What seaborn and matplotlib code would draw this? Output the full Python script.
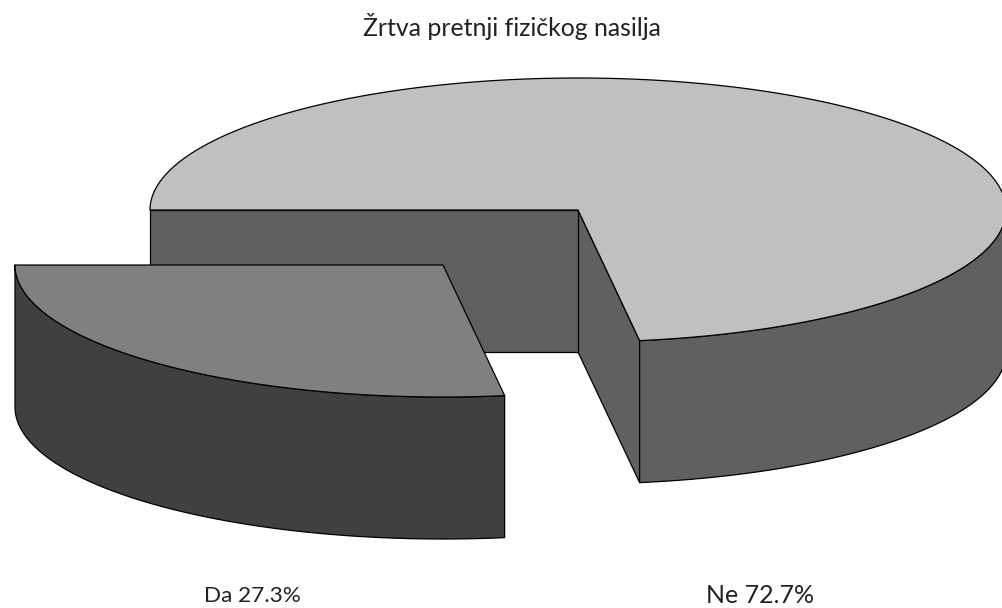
import numpy as np
import matplotlib.pyplot as plt
import seaborn as sns
from matplotlib.patches import Polygon

# data
labels = ['Da', 'Ne']
shares = [27.3, 72.7]
top_colors = ['#808080', '#c0c0c0']
side_colors = ['#404040', '#606060']
title = 'Žrtva pretnji fizičkog nasilja'

sns.set_style('white')
plt.rcParams['font.family'] = ['Lato', 'DejaVu Sans']

# layout of the fake 3d pie (pixels)
cx, cy = 578, 210
rx, ry = 428, 132
depth = 142
start_angle = 180
explode_shift = {'Da': (-135, 55), 'Ne': (0, 0)}


def rim(theta, shift, down=0):
    t = np.radians(theta)
    return np.column_stack([cx + shift[0] + rx * np.cos(t),
                            cy + shift[1] - ry * np.sin(t) + down])


def add(ax, pts, color, z):
    ax.add_patch(Polygon(pts, closed=True, facecolor=color, edgecolor='black',
                         linewidth=0.9, joinstyle='round', zorder=z))


def fit_text(ax, x, y, s, width_px):
    # size the text so it spans about width_px like the original
    t = ax.text(x, y, s, ha='center', va='baseline', fontsize=12, color='#222222')
    r = ax.figure.canvas.get_renderer()
    w = t.get_window_extent(r).width
    t.set_fontsize(12 * width_px / w)
    return t


fig = plt.figure(figsize=(10.03, 6.08), dpi=100)
ax = fig.add_axes([0, 0, 1, 1])
ax.set_xlim(0, 1003)
ax.set_ylim(608, 0)
ax.axis('off')

total = sum(shares)
a0 = start_angle
spans = []
for lab, val in zip(labels, shares):
    a1 = a0 + 360 * val / total
    spans.append((lab, a0, a1))
    a0 = a1

# big slice first (behind), exploded slice in front
order = sorted(range(len(labels)), key=lambda i: explode_shift[labels[i]][1])
z = 1
for i in order:
    lab, a0, a1 = spans[i]
    sh = explode_shift[lab]
    c = np.array([[cx + sh[0], cy + sh[1]]])
    if sh == (0, 0):
        # cut faces of the remaining slice are visible
        for edge in (a0, a1):
            p = rim(edge, sh)[0]
            face = np.array([c[0], p, p + [0, depth], c[0] + [0, depth]])
            add(ax, face, side_colors[i], z)
            z += 1
    # outer side, only the front half (screen-bottom) shows
    lo = max(a0, 180)
    hi = min(a1, 360)
    if hi > lo:
        th = np.linspace(lo, hi, 200)
        side = np.vstack([rim(th, sh), rim(th[::-1], sh, depth)])
        add(ax, side, side_colors[i], z)
        z += 1
    th = np.linspace(a0, a1, 400)
    top = np.vstack([c, rim(th, sh)])
    add(ax, top, top_colors[i], z)
    z += 1

fit_text(ax, 512, 36, title, 298)
fit_text(ax, 252, 602, f'{labels[0]} {shares[0]}%', 96)
fit_text(ax, 760, 603, f'{labels[1]} {shares[1]}%', 108)

fig.savefig('out.png', dpi=100)
